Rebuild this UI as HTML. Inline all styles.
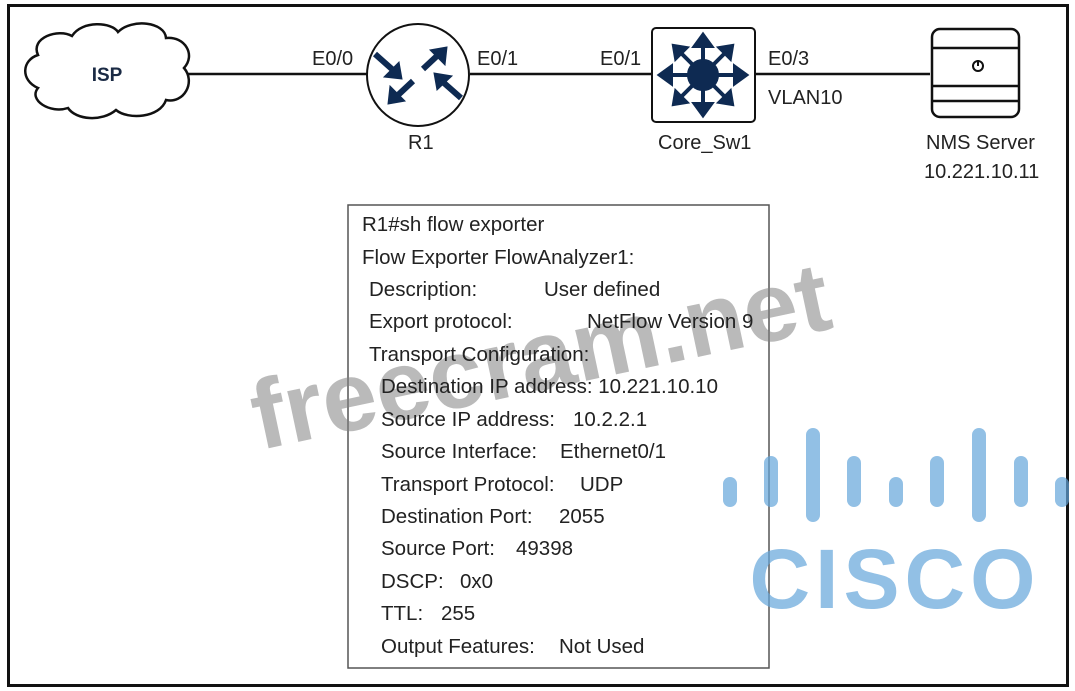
<!DOCTYPE html>
<html><head><meta charset="utf-8"><style>
body{margin:0;width:1075px;height:691px;background:#fff;overflow:hidden;position:relative;font-family:"Liberation Sans",sans-serif;color:#222}
.t{position:absolute;font-size:20.5px;white-space:nowrap;line-height:22px}
.l{position:absolute;font-size:20px;white-space:nowrap;line-height:22px}
</style></head><body>
<div style="position:absolute;left:7px;top:4px;width:1056px;height:677px;border:3px solid #111"></div>
<svg width="1075" height="691" style="position:absolute;left:0;top:0">
<line x1="188" y1="74" x2="368" y2="74" stroke="#111" stroke-width="2.5"/>
<line x1="470" y1="74" x2="652" y2="74" stroke="#111" stroke-width="2.5"/>
<line x1="755" y1="74" x2="930" y2="74" stroke="#111" stroke-width="2.5"/>
<path d="M38,55 C30,38 58,28 72,36 C82,20 112,22 118,32 C132,18 165,22 166,38 C185,36 196,55 184,68 C196,82 184,104 166,100 C160,118 128,120 116,110 C102,122 76,120 68,108 C50,114 28,100 38,88 C20,80 22,60 38,55 Z" fill="#fff" stroke="#111" stroke-width="2.5"/>
<text x="107" y="81" text-anchor="middle" font-family="Liberation Sans" font-weight="bold" font-size="19" fill="#1a2a44">ISP</text>
<circle cx="418" cy="75" r="51" fill="#fff" stroke="#111" stroke-width="2"/>
<g fill="#0e2a52" stroke="#0e2a52" stroke-width="6">
<line x1="375" y1="54" x2="393" y2="70"/><polygon points="402,79 384,77 399,62" stroke-width="1"/>
<line x1="413" y1="81" x2="397" y2="96"/><polygon points="388,104 390,86 405,101" stroke-width="1"/>
<line x1="423" y1="69" x2="438" y2="55"/><polygon points="447,47 445,65 430,50" stroke-width="1"/>
<line x1="461" y1="98" x2="444" y2="83"/><polygon points="434,73 452,76 437,90" stroke-width="1"/>
</g>
<rect x="652" y="28" width="103" height="94" rx="4" fill="#fff" stroke="#111" stroke-width="2"/>
<g stroke="#0e2a52" stroke-width="4" fill="#0e2a52">
<line x1="703" y1="75" x2="703" y2="42"/><line x1="703" y1="75" x2="703" y2="108"/>
<line x1="703" y1="75" x2="668" y2="75"/><line x1="703" y1="75" x2="738" y2="75"/>
<line x1="703" y1="75" x2="680" y2="52"/><line x1="703" y1="75" x2="726" y2="52"/>
<line x1="703" y1="75" x2="680" y2="98"/><line x1="703" y1="75" x2="726" y2="98"/>
<circle cx="703" cy="75" r="14"/>
<polygon points="703,35 695,46 711,46"/><polygon points="703,115 695,104 711,104"/>
<polygon points="660,75 671,67 671,83"/><polygon points="746,75 735,67 735,83"/>
<polygon points="674,46 676,58 686,48"/><polygon points="732,46 730,58 720,48"/>
<polygon points="674,104 676,92 686,102"/><polygon points="732,104 730,92 720,102"/>
</g>
<rect x="932" y="29" width="87" height="88" rx="8" fill="#fff" stroke="#111" stroke-width="2.5"/>
<line x1="932" y1="48" x2="1019" y2="48" stroke="#111" stroke-width="2.5"/>
<line x1="932" y1="86" x2="1019" y2="86" stroke="#111" stroke-width="2.5"/>
<line x1="932" y1="101" x2="1019" y2="101" stroke="#111" stroke-width="2.5"/>
<circle cx="978" cy="66" r="5" fill="none" stroke="#111" stroke-width="2"/>
<line x1="978" y1="60" x2="978" y2="66" stroke="#111" stroke-width="2"/>
<rect x="348" y="205" width="421" height="463" fill="none" stroke="#555" stroke-width="1.5"/>
<g fill="rgba(100,165,218,0.7)">
<rect x="723" y="477" width="14" height="30" rx="7"/><rect x="764" y="456" width="14" height="51" rx="7"/>
<rect x="806" y="428" width="14" height="94" rx="7"/><rect x="847" y="456" width="14" height="51" rx="7"/>
<rect x="889" y="477" width="14" height="30" rx="7"/><rect x="930" y="456" width="14" height="51" rx="7"/>
<rect x="972" y="428" width="14" height="94" rx="7"/><rect x="1014" y="456" width="14" height="51" rx="7"/>
<rect x="1055" y="477" width="14" height="30" rx="7"/>
<text x="895" y="608" text-anchor="middle" font-family="Liberation Sans" font-weight="bold" font-size="84" letter-spacing="5">CISCO</text>
</g>
<text x="537" y="390" text-anchor="middle" transform="rotate(-12 537 340)" font-family="Liberation Sans" font-weight="bold" font-size="98" fill="rgba(130,130,130,0.55)">freecram.net</text>
</svg>
<div class="l" style="left:312px;top:48px">E0/0</div>
<div class="l" style="left:477px;top:48px">E0/1</div>
<div class="l" style="left:600px;top:48px">E0/1</div>
<div class="l" style="left:768px;top:48px">E0/3</div>
<div class="l" style="left:768px;top:87px">VLAN10</div>
<div class="l" style="left:408px;top:132px">R1</div>
<div class="l" style="left:658px;top:132px">Core_Sw1</div>
<div class="l" style="left:926px;top:132px">NMS Server</div>
<div class="l" style="left:924px;top:161px">10.221.10.11</div>
<div class="t" style="left:362px;top:214px">R1#sh flow exporter</div>
<div class="t" style="left:362px;top:247px">Flow Exporter FlowAnalyzer1:</div>
<div class="t" style="left:369px;top:279px">Description:</div><div class="t" style="left:544px;top:279px">User defined</div>
<div class="t" style="left:369px;top:311px">Export protocol:</div><div class="t" style="left:587px;top:311px">NetFlow Version 9</div>
<div class="t" style="left:369px;top:344px">Transport Configuration:</div>
<div class="t" style="left:381px;top:376px">Destination IP address: 10.221.10.10</div>
<div class="t" style="left:381px;top:409px">Source IP address:</div><div class="t" style="left:573px;top:409px">10.2.2.1</div>
<div class="t" style="left:381px;top:441px">Source Interface:</div><div class="t" style="left:560px;top:441px">Ethernet0/1</div>
<div class="t" style="left:381px;top:474px">Transport Protocol:</div><div class="t" style="left:580px;top:474px">UDP</div>
<div class="t" style="left:381px;top:506px">Destination Port:</div><div class="t" style="left:559px;top:506px">2055</div>
<div class="t" style="left:381px;top:538px">Source Port:</div><div class="t" style="left:516px;top:538px">49398</div>
<div class="t" style="left:381px;top:571px">DSCP:</div><div class="t" style="left:460px;top:571px">0x0</div>
<div class="t" style="left:381px;top:603px">TTL:</div><div class="t" style="left:441px;top:603px">255</div>
<div class="t" style="left:381px;top:636px">Output Features:</div><div class="t" style="left:559px;top:636px">Not Used</div>
</body></html>
